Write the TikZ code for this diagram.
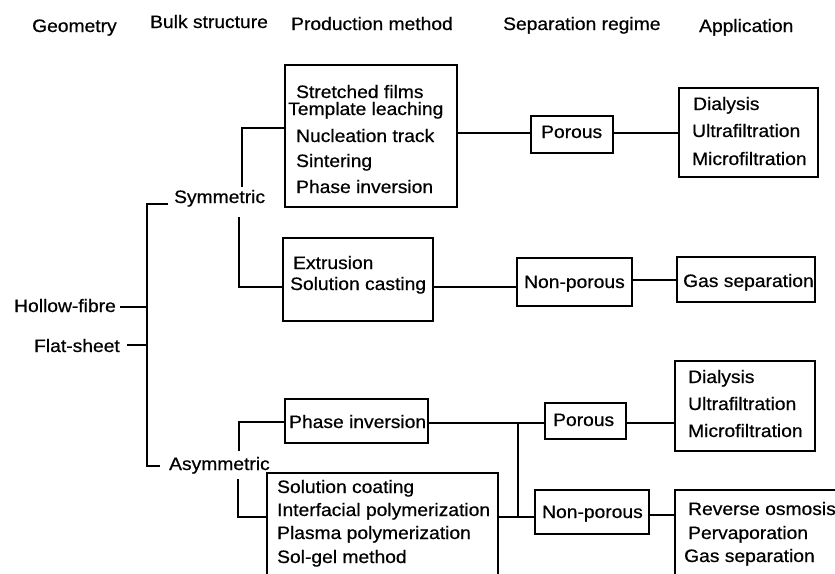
\documentclass[tikz,border=0pt]{standalone}
\usepackage{fontspec}
\setmainfont{Liberation Sans}[FakeStretch=1.07,FakeBold=0.6]
\newcommand\mybox[5]{\node[box,minimum width={(#4)-(#2)},minimum height={(#5)-(#3)}] (#1) at ({((#2)+(#4))/2},{((#3)+(#5))/2}) {};}
\begin{document}
\begin{tikzpicture}[x=1pt,y=-1pt,
  line width=2.3pt,
  box/.style={draw,line width=2.3pt,inner sep=0pt,rectangle},
  txt/.style={anchor=base west,inner sep=0pt,font=\fontsize{18}{22}\selectfont},
  conn/.style={draw,line width=2.3pt}]
\useasboundingbox (0,0) rectangle (835,573);

% headers
\node[txt] (h1) at (31,32) {Geometry};
\node[txt] (h2) at (149,28) {Bulk structure};
\node[txt] (h3) at (290,30) {Production method};
\node[txt] (h4) at (502,30) {Separation regime};
\node[txt] (h5) at (698,32) {Application};

% geometry and bulk labels
\node[txt] (hf) at (13,312) {Hollow-fibre};
\node[txt] (fs) at (33,352) {Flat-sheet};
\node[txt] (sym) at (173,203) {Symmetric};
\node[txt] (asym) at (168,470) {Asymmetric};

% boxes
\mybox{pm1}{285}{65}{457}{207}
\mybox{pm2}{283}{238}{433}{321}
\mybox{pm3}{285}{399}{428}{443}
\mybox{pm4}{267}{473}{498}{600}
\mybox{sr1}{531}{116}{613}{153}
\mybox{sr2}{517}{258}{632}{306}
\mybox{sr3}{545}{403}{626}{439}
\mybox{sr4}{535}{490}{649}{534}
\mybox{ap1}{679}{88}{818}{177}
\mybox{ap2}{677}{257}{815}{302}
\mybox{ap3}{675}{361}{815}{451}
\mybox{ap4}{675}{490}{860}{600}

% box texts
\node[txt] (t1a) at (295,98) {Stretched films};
\node[txt] (t1b) at (287,115) {Template leaching};
\node[txt] (t1c) at (295,142) {Nucleation track};
\node[txt] (t1d) at (295,167) {Sintering};
\node[txt] (t1e) at (295,193) {Phase inversion};
\node[txt] (t2a) at (292,269) {Extrusion};
\node[txt] (t2b) at (289,290) {Solution casting};
\node[txt] (t3a) at (288,428) {Phase inversion};
\node[txt] (t4a) at (276,493) {Solution coating};
\node[txt] (t4b) at (276,516) {Interfacial polymerization};
\node[txt] (t4c) at (276,539) {Plasma polymerization};
\node[txt] (t4d) at (276,563) {Sol-gel method};
\node[txt] (s1a) at (540,138) {Porous};
\node[txt] (s2a) at (523,288) {Non-porous};
\node[txt] (s3a) at (552,426) {Porous};
\node[txt] (s4a) at (541,518) {Non-porous};
\node[txt] (a1a) at (692,110) {Dialysis};
\node[txt] (a1b) at (691,137) {Ultrafiltration};
\node[txt] (a1c) at (691,165) {Microfiltration};
\node[txt] (a2a) at (682,287) {Gas separation};
\node[txt] (a3a) at (687,383) {Dialysis};
\node[txt] (a3b) at (687,410) {Ultrafiltration};
\node[txt] (a3c) at (687,437) {Microfiltration};
\node[txt] (a4a) at (687,515) {Reverse osmosis};
\node[txt] (a4b) at (687,539) {Pervaporation};
\node[txt] (a4c) at (683,562) {Gas separation};

% junction coordinates
\coordinate (gt) at (147,204);
\coordinate (gb) at (147,466);
\coordinate (symL) at (168,204);
\coordinate (asymL) at (160,466);
\coordinate (hfL) at (120,307);
\coordinate (fsL) at (127,345);
\coordinate (s1) at (242,187);
\coordinate (j1) at (242,128);
\coordinate (s2) at (239,217);
\coordinate (j2) at (239,287);
\coordinate (a1) at (239,451);
\coordinate (j3) at (239,422);
\coordinate (a2) at (238,479);
\coordinate (j4) at (238,517);
\coordinate (y1) at (0,133);
\coordinate (y2) at (0,287);
\coordinate (y2b) at (0,280);
\coordinate (y3) at (0,423);
\coordinate (jv) at (518,423);
\coordinate (j5) at (518,517);
\coordinate (y4) at (0,515);

% connectors
\draw[conn] (symL) -- (gt) -- (gb) -- (asymL);
\draw[conn] (hfL) -- (hfL -| gt);
\draw[conn] (fsL) -- (fsL -| gt);
\draw[conn] (s1) -- (j1) -- (j1 -| pm1.west);
\draw[conn] (s2) -- (j2) -- (j2 -| pm2.west);
\draw[conn] (a1) -- (j3) -- (j3 -| pm3.west);
\draw[conn] (a2) -- (j4) -- (j4 -| pm4.west);
\draw[conn] (pm1.east |- y1) -- (sr1.west |- y1);
\draw[conn] (sr1.east |- y1) -- (ap1.west |- y1);
\draw[conn] (pm2.east |- y2) -- (sr2.west |- y2);
\draw[conn] (sr2.east |- y2b) -- (ap2.west |- y2b);
\draw[conn] (pm3.east |- y3) -- (sr3.west |- y3);
\draw[conn] (sr3.east |- y3) -- (ap3.west |- y3);
\draw[conn] (jv) -- (j5);
\draw[conn] (pm4.east |- j5) -- (sr4.west |- j5);
\draw[conn] (sr4.east |- y4) -- (ap4.west |- y4);
\end{tikzpicture}
\end{document}
